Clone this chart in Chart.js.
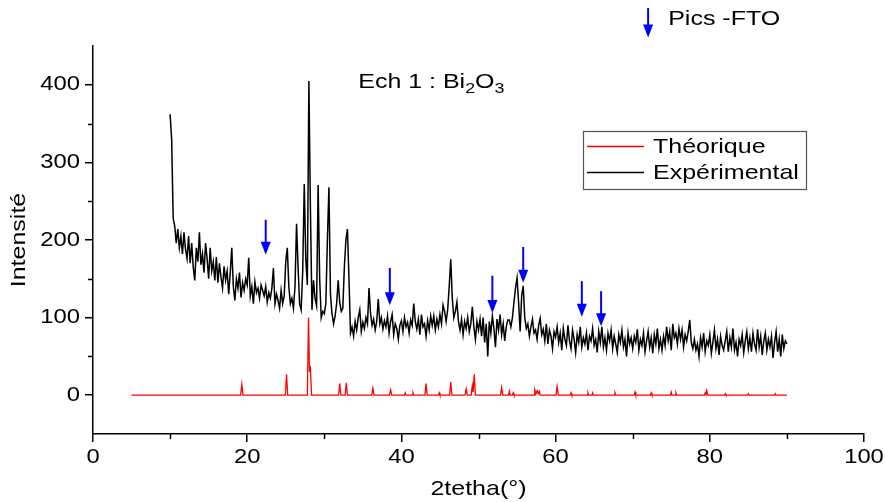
<!DOCTYPE html>
<html>
<head>
<meta charset="utf-8">
<script src="https://cdn.jsdelivr.net/npm/chart.js@4.4.0/dist/chart.umd.min.js"></script>
<style>
  html, body { margin: 0; padding: 0; background: #ffffff; overflow: hidden; }
  #wrap { width: 885px; height: 502px; }
</style>
</head>
<body>
<div id="wrap"><canvas id="xrd" width="885" height="502"></canvas></div>
<script>
// Diffractogram of sample 1 (Bi2O3 on FTO): measured pattern, reference pattern, FTO peaks.

// Measured pattern: intensity every 0.2° from 10.0° to 90.0°
const expStart = 10.0;
const expStep = 0.2;
const expIntensity = [
  362, 330, 228, 218, 196, 214, 190, 205, 182, 210,   // 10.0
  188, 176, 205, 170, 196, 165, 148, 190, 172, 210,   // 12.0
  168, 182, 158, 196, 176, 150, 190, 160, 172, 148,   // 14.0
  178, 145, 170, 152, 138, 166, 148, 160, 130, 158,   // 16.0
  190, 140, 122, 150, 138, 158, 126, 145, 135, 150,   // 18.0
  142, 177, 128, 140, 118, 146, 132, 138, 125, 142,   // 20.0
  135, 128, 140, 120, 132, 125, 138, 164, 118, 130,   // 22.0
  122, 112, 135, 118, 128, 172, 190, 140, 118, 125,   // 24.0
  112, 140, 221, 165, 118, 110, 160, 272, 175, 142,   // 26.0
  405, 240, 110, 148, 125, 115, 271, 150, 100, 108,   // 28.0
  105, 118, 200, 268, 130, 105, 92, 102, 118, 148,    // 30.0
  120, 108, 112, 165, 200, 214, 150, 80, 88, 76,      // 32.0
  95, 84, 100, 110, 82, 94, 86, 100, 92, 138,         // 34.0
  105, 90, 98, 84, 95, 124, 92, 100, 85, 96,          // 36.0
  88, 102, 80, 95, 104, 78, 92, 86, 72, 90,           // 38.0
  96, 82, 100, 88, 94, 80, 97, 90, 118, 95,           // 40.0
  85, 98, 78, 104, 88, 92, 76, 96, 84, 102,           // 42.0
  90, 102, 84, 98, 88, 104, 92, 116, 108, 95,         // 44.0
  110, 140, 175, 125, 100, 108, 120, 95, 84, 98,      // 46.0
  78, 95, 86, 100, 82, 92, 114, 88, 72, 95,           // 48.0
  84, 98, 76, 100, 68, 92, 50, 95, 80, 102,           // 50.0
  86, 62, 98, 84, 104, 78, 92, 70, 88, 97,            // 52.0
  97, 88, 100, 120, 138, 151, 120, 82, 128, 141,      // 54.0
  100, 86, 92, 76, 88, 98, 80, 84, 72, 90,            // 56.0
  99, 78, 85, 70, 92, 66, 84, 76, 60, 82,             // 58.0
  75, 88, 68, 80, 58, 86, 72, 64, 90, 70,             // 60.0
  60, 84, 72, 55, 78, 68, 88, 62, 74, 66,             // 62.0
  80, 58, 76, 70, 86, 64, 72, 55, 82, 68,             // 64.0
  88, 62, 74, 58, 80, 70, 84, 60, 76, 66,             // 66.0
  55, 78, 68, 84, 62, 72, 50, 80, 66, 74,             // 68.0
  60, 76, 68, 85, 58, 72, 64, 80, 56, 70,             // 70.0
  82, 62, 74, 54, 78, 66, 86, 60, 72, 58,             // 72.0
  76, 64, 88, 70, 82, 58, 92, 74, 80, 66,             // 74.0
  86, 72, 84, 62, 78, 70, 82, 97, 68, 60,             // 76.0
  72, 58, 66, 50, 74, 62, 80, 56, 70, 64,             // 78.0
  78, 54, 68, 84, 60, 72, 52, 76, 64, 58,             // 80.0
  70, 82, 56, 74, 62, 86, 58, 68, 50, 72,             // 82.0
  64, 78, 55, 70, 82, 60, 74, 56, 80, 66,             // 84.0
  58, 85, 62, 76, 52, 70, 80, 58, 72, 62,             // 86.0
  76, 48, 68, 82, 56, 72, 50, 78, 60, 70,             // 88.0
  66                                                  // 90.0
];

// Reference (theoretical) pattern: angle / intensity pairs
const theoAngle = [
  5.0,
  19.15, 19.3, 19.45,
  24.95, 25.1, 25.25,
  27.8, 27.95, 28.08, 28.18, 28.35,
  31.85, 32.0, 32.15,
  32.7, 32.85, 33.0,
  36.15, 36.3, 36.45,
  38.45, 38.6, 38.75,
  40.4, 40.5, 40.6,
  41.4, 41.5, 41.6,
  43.05, 43.2, 43.35,
  44.8, 44.9, 45.0,
  46.25, 46.4, 46.55,
  48.25, 48.4, 48.55,
  49.05, 49.2, 49.3, 49.45, 49.6,
  52.85, 53.0, 53.15,
  53.9, 54.0, 54.1,
  54.4, 54.5, 54.6,
  57.2, 57.3, 57.45, 57.6, 57.75, 57.9, 58.0,
  60.05, 60.2, 60.35,
  61.9, 62.0, 62.1,
  64.1, 64.2, 64.3,
  64.7, 64.8, 64.9,
  67.6, 67.7, 67.8,
  70.2, 70.3, 70.4,
  72.3, 72.4, 72.5,
  74.9, 75.0, 75.1,
  75.5, 75.6, 75.7,
  79.3, 79.4, 79.5, 79.6, 79.75,
  81.9, 82.0, 82.1,
  84.9, 85.0, 85.1,
  88.4, 88.5, 88.6,
  90.0
];
const theoIntensity = [
  0,
  0, 14, 0,
  0, 27, 0,
  0, 100, 30, 38, 0,
  0, 15, 0,
  0, 16, 0,
  0, 9, 0,
  0, 7, 0,
  0, 3, 0,
  0, 3, 0,
  0, 15, 0,
  0, 3, 0,
  0, 17, 0,
  0, 8, 0,
  0, 12, 4, 27, 0,
  0, 10, 0,
  0, 5, 0,
  0, 3, 0,
  0, 7, 2, 6, 2, 5, 0,
  0, 11, 0,
  0, 3, 0,
  0, 3, 0,
  0, 3, 0,
  0, 3, 0,
  0, 4, 0,
  0, 3, 0,
  0, 4, 0,
  0, 3, 0,
  0, 3, 1, 6, 0,
  0, 2, 0,
  0, 2, 0,
  0, 2, 0,
  0
];

// FTO substrate peaks marked with arrows: angle, arrow tail and tip intensities
const ftoAngle = [22.4, 38.5, 51.8, 55.8, 63.4, 65.9];
const ftoArrowTail = [226, 164, 154, 191, 147, 134];
const ftoArrowTip = [181, 116, 106, 145, 101, 89];

// Arrow used in the "Pics -FTO" key
const keyArrowAngle = 72.0;
const keyArrowTail = 499;
const keyArrowTip = 461;

// Axis ticks
const xTicks = [0, 20, 40, 60, 80, 100];
const xMinorTicks = [10, 30, 50, 70, 90];
const yTicks = [0, 100, 200, 300, 400];
const yMinorTicks = [50, 150, 250, 350];

// Series names and annotation texts
const seriesNames = ['Théorique', 'Expérimental'];
const seriesColors = ['#ff0000', '#000000'];
const sampleLabel = { main: 'Ech 1 : Bi', parts: [['2', true], ['O', false], ['3', true]], angle: 34.4, intensity: 396 };
const keyLabel = { text: 'Pics -FTO', angle: 74.6, intensity: 484 };

const FONT = '"Liberation Sans", Arial, Helvetica, sans-serif';
const ARROW_BLUE = '#0000ff';
// all lettering is set in a slightly widened Arial
const TEXT_WIDEN = 1.19;

const expPoints = expIntensity.map((v, i) => ({ x: Math.round((expStart + i * expStep) * 10) / 10, y: v }));
const theoPoints = theoAngle.map((a, i) => ({ x: a, y: theoIntensity[i] }));

// widen every piece of text around its own anchor point
const widenText = {
  id: 'widenText',
  beforeInit(chart) {
    const ctx = chart.ctx;
    if (ctx.__widened) return;
    const baseFill = ctx.fillText;
    const baseMeasure = ctx.measureText;
    ctx.fillText = function (text, x, y, maxWidth) {
      this.save();
      this.translate(x, y);
      this.scale(TEXT_WIDEN, 1);
      if (maxWidth === undefined) baseFill.call(this, text, 0, 0);
      else baseFill.call(this, text, 0, 0, maxWidth / TEXT_WIDEN);
      this.restore();
    };
    ctx.measureText = function (text) {
      const m = baseMeasure.call(this, text);
      return {
        width: m.width * TEXT_WIDEN,
        actualBoundingBoxLeft: m.actualBoundingBoxLeft * TEXT_WIDEN,
        actualBoundingBoxRight: m.actualBoundingBoxRight * TEXT_WIDEN,
        actualBoundingBoxAscent: m.actualBoundingBoxAscent,
        actualBoundingBoxDescent: m.actualBoundingBoxDescent,
        fontBoundingBoxAscent: m.fontBoundingBoxAscent,
        fontBoundingBoxDescent: m.fontBoundingBoxDescent
      };
    };
    ctx.__widened = true;
  }
};

function drawArrow(ctx, x, yTail, yTip) {
  const headH = 13, headW = 10;
  ctx.strokeStyle = ARROW_BLUE;
  ctx.fillStyle = ARROW_BLUE;
  ctx.lineWidth = 2;
  ctx.beginPath();
  ctx.moveTo(x, yTail);
  ctx.lineTo(x, yTip - headH + 1);
  ctx.stroke();
  ctx.beginPath();
  ctx.moveTo(x - headW / 2, yTip - headH);
  ctx.lineTo(x + headW / 2, yTip - headH);
  ctx.lineTo(x, yTip);
  ctx.closePath();
  ctx.fill();
}

const overlay = {
  id: 'overlay',
  afterDraw(chart) {
    const { ctx, chartArea, scales: { x, y } } = chart;
    ctx.save();

    // minor tick marks
    ctx.strokeStyle = '#000';
    ctx.lineWidth = 1.5;
    xMinorTicks.forEach(v => {
      const px = Math.round(x.getPixelForValue(v)) + 0.5;
      ctx.beginPath();
      ctx.moveTo(px, chartArea.bottom);
      ctx.lineTo(px, chartArea.bottom + 5);
      ctx.stroke();
    });
    yMinorTicks.forEach(v => {
      const py = Math.round(y.getPixelForValue(v)) + 0.5;
      ctx.beginPath();
      ctx.moveTo(chartArea.left, py);
      ctx.lineTo(chartArea.left - 5, py);
      ctx.stroke();
    });

    // FTO arrows
    ftoAngle.forEach((a, i) => {
      drawArrow(ctx, x.getPixelForValue(a), y.getPixelForValue(ftoArrowTail[i]), y.getPixelForValue(ftoArrowTip[i]));
    });
    drawArrow(ctx, x.getPixelForValue(keyArrowAngle), y.getPixelForValue(keyArrowTail), y.getPixelForValue(keyArrowTip));

    // key text
    ctx.fillStyle = '#000';
    ctx.textBaseline = 'middle';
    ctx.textAlign = 'left';
    ctx.font = '21px ' + FONT;
    ctx.fillText(keyLabel.text, x.getPixelForValue(keyLabel.angle), y.getPixelForValue(keyLabel.intensity));

    // sample label with subscripts
    let tx = x.getPixelForValue(sampleLabel.angle);
    const ty = y.getPixelForValue(sampleLabel.intensity);
    ctx.textBaseline = 'alphabetic';
    ctx.font = '21px ' + FONT;
    ctx.fillText(sampleLabel.main, tx, ty);
    tx += ctx.measureText(sampleLabel.main).width;
    sampleLabel.parts.forEach(([t, sub]) => {
      ctx.font = (sub ? '15px ' : '21px ') + FONT;
      ctx.fillText(t, tx, ty + (sub ? 5 : 0));
      tx += ctx.measureText(t).width;
    });

    // legend box
    const bx = 583, by = 131, bw = 223, bh = 58;
    ctx.strokeStyle = '#555';
    ctx.lineWidth = 1.2;
    ctx.strokeRect(bx + 0.5, by + 0.5, bw, bh);
    ctx.font = '21px ' + FONT;
    ctx.textBaseline = 'middle';
    seriesNames.forEach((name, i) => {
      const ly = by + 15 + i * 26;
      ctx.strokeStyle = seriesColors[i];
      ctx.lineWidth = 1.4;
      ctx.beginPath();
      ctx.moveTo(bx + 4, ly + 0.5);
      ctx.lineTo(bx + 61, ly + 0.5);
      ctx.stroke();
      ctx.fillStyle = '#000';
      ctx.fillText(name, bx + 70, ly + 1);
    });

    ctx.restore();
  }
};

new Chart(document.getElementById('xrd'), {
  type: 'line',
  data: {
    datasets: [
      {
        label: seriesNames[0],
        data: theoPoints,
        borderColor: seriesColors[0],
        borderWidth: 1.3,
        pointRadius: 0,
        tension: 0,
        fill: false
      },
      {
        label: seriesNames[1],
        data: expPoints,
        borderColor: seriesColors[1],
        borderWidth: 1.5,
        pointRadius: 0,
        tension: 0,
        fill: false
      }
    ]
  },
  options: {
    responsive: false,
    animation: false,
    devicePixelRatio: 1,
    layout: { padding: { left: 0, top: 46, right: 21, bottom: 0 } },
    plugins: { legend: { display: false }, tooltip: { enabled: false } },
    scales: {
      x: {
        type: 'linear',
        min: 0,
        max: 100,
        afterBuildTicks: s => { s.ticks = xTicks.map(v => ({ value: v })); },
        afterFit: s => { s.height = 68; s.paddingLeft = 0; s.paddingRight = 0; },
        border: { display: true, color: '#000', width: 1.5 },
        grid: { display: true, drawOnChartArea: false, drawTicks: true, tickLength: 8, color: '#000', lineWidth: 1.5 },
        ticks: { color: '#000', font: { family: FONT, size: 20 }, padding: 3, maxRotation: 0, autoSkip: false },
        title: { display: true, text: '2tetha(°)', color: '#000', font: { family: FONT, size: 21 }, padding: { top: 0, bottom: 0 } }
      },
      y: {
        type: 'linear',
        min: -50,
        max: 450,
        afterBuildTicks: s => { s.ticks = yTicks.map(v => ({ value: v })); },
        afterFit: s => { s.width = 93; s.paddingTop = 0; s.paddingBottom = 0; },
        border: { display: true, color: '#000', width: 1.5 },
        grid: { display: true, drawOnChartArea: false, drawTicks: true, tickLength: 8, color: '#000', lineWidth: 1.5 },
        ticks: { color: '#000', font: { family: FONT, size: 20 }, padding: 5, autoSkip: false },
        title: { display: true, text: 'Intensité', color: '#000', font: { family: FONT, size: 21 }, padding: { top: 7, bottom: 0 } }
      }
    }
  },
  plugins: [widenText, overlay]
});
</script>
</body>
</html>
